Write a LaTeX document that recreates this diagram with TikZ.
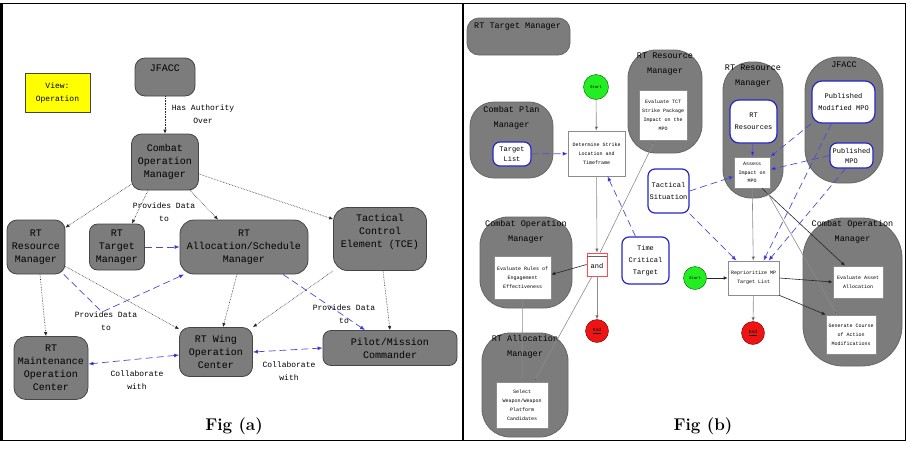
\documentclass[tikz,border=0pt]{standalone}
\usepackage{fontspec}
\setmonofont{Liberation Mono}
\usetikzlibrary{arrows.meta}
\definecolor{lanegray}{HTML}{7C7C7C}
\definecolor{edgegray}{HTML}{454545}
\definecolor{flowblue}{HTML}{4A4AD8}
\definecolor{boxblue}{HTML}{2626C8}
\definecolor{startgreen}{HTML}{22EE22}
\definecolor{endred}{HTML}{EE1414}
\definecolor{viewyellow}{HTML}{FFFF00}
\begin{document}
\begin{tikzpicture}[x=1pt,y=-1pt,
    actor/.style={draw=edgegray,fill=lanegray,rounded corners=10pt,align=center,
        inner sep=2pt,line width=0.8pt,font=\ttfamily\fontsize{10}{13}\selectfont},
    edgelabel/.style={align=center,inner sep=0pt,font=\ttfamily\fontsize{8}{13}\selectfont},
    lane/.style={draw=black!60,fill=lanegray,line width=0.8pt},
    lanetitle/.style={align=center,inner sep=0pt,font=\ttfamily\fontsize{8.5}{14.5}\selectfont},
    task/.style={draw=black!45,fill=white,align=center,inner sep=1pt,line width=0.6pt,
        font=\ttfamily\fontsize{5}{9}\selectfont},
    datum/.style={draw=boxblue,fill=white,rounded corners=7pt,align=center,inner sep=1pt,
        line width=1.2pt,font=\ttfamily\fontsize{7}{12}\selectfont},
    startnode/.style={circle,draw=green!35!black,fill=startgreen,inner sep=0pt,
        minimum size=23pt,font=\ttfamily\fontsize{4}{5}\selectfont},
    endnode/.style={circle,draw=red!40!black,fill=endred,inner sep=0pt,
        minimum size=23pt,font=\ttfamily\fontsize{4.5}{5}\selectfont},
    dotflow/.style={densely dotted,draw=black!85,line width=0.6pt,
        -{Latex[length=4pt,width=3.5pt]}},
    dataflow/.style={draw=flowblue,line width=0.7pt,dash pattern=on 7pt off 4pt,
        -{Latex[length=5pt,width=4pt,fill=blue!80!black]}},
    databoth/.style={dataflow,{Latex[length=5pt,width=4pt,fill=blue!80!black]}-{Latex[length=5pt,width=4pt,fill=blue!80!black]}},
    ctrlflow/.style={draw=black!45,line width=0.6pt,-{Latex[length=4pt,width=3.5pt,fill=black]}},
    blackflow/.style={draw=black!85,line width=0.6pt,-{Latex[length=4pt,width=3.5pt]}}]
    \useasboundingbox (0,0) rectangle (910,448);
    %% Frame
    \draw[line width=0.8pt] (2,3) -- (905,3) -- (905,440) -- (2,440);
    \draw[line width=3pt] (1.5,3) -- (1.5,441);
    \draw[line width=2pt] (462.5,3) -- (462.5,441);

    %% ---------------- Fig (a) ----------------
    \node[draw=edgegray,fill=viewyellow,minimum width=65,minimum height=39,align=center,
        font=\ttfamily\fontsize{8}{13}\selectfont] (view) at (57.5,92.5) {View:\\Operation};
    \node[actor,minimum width=60,minimum height=38] (jfacc) at (165,77) {JFACC\\[4pt]~};
    \node[actor,minimum width=67,minimum height=56] (com) at (165,162) {Combat\\Operation\\Manager};
    \node[actor,minimum width=58,minimum height=54] (res) at (36,247) {RT\\Resource\\Manager};
    \node[actor,minimum width=55,minimum height=46,rounded corners=8pt] (tgt) at (117,247) {RT\\Target\\Manager};
    \node[actor,minimum width=128,minimum height=54,rounded corners=14pt] (alloc) at (244,247)
        {RT\\Allocation/Schedule\\Manager};
    \node[actor,minimum width=93,minimum height=63,rounded corners=14pt] (tce) at (380,239)
        {Tactical\\Control\\Element (TCE)\\[4pt]~};
    \node[actor,minimum width=74,minimum height=63,rounded corners=12pt] (maint) at (51,368)
        {RT\\Maintenance\\Operation\\Center};
    \node[actor,minimum width=73,minimum height=49] (wing) at (216,352) {RT Wing\\Operation\\Center};
    \node[actor,minimum width=134,minimum height=35,rounded corners=8pt] (pilot) at (390,348)
        {Pilot/Mission\\Commander};

    %% Relations
    \draw[dotflow] (jfacc) -- (com);
    \node[edgelabel] (lblauth) at (203,114) {Has Authority\\Over};
    \draw[dotflow] (com) -- (res);
    \draw[dotflow] ([xshift=-17pt]com.south) -- ([xshift=15pt]tgt.north);
    \node[edgelabel] (lblcom) at (164,212) {Provides Data\\to};
    \draw[dotflow] ([xshift=25pt]com.south) -- ([xshift=-26pt]alloc.north);
    \draw[dotflow] ([yshift=-12pt]com.east) -- ([yshift=-12pt]tce.north west);
    \draw[dotflow] ([xshift=4pt]res.south) -- ([xshift=-5pt]maint.north);
    \draw[dotflow] ([yshift=8pt]res.south east) -- ([yshift=-2pt]wing.north west);
    \coordinate (resbend) at (102,312);
    \draw[dataflow] (res) -- (resbend) -- (alloc);
    \node[edgelabel] (lblres) at (106,321) {Provides Data\\to};
    \draw[dataflow] (tgt) -- (alloc);
    \draw[dotflow] ([xshift=-7pt]alloc.south) -- ([xshift=7pt]wing.north);
    \draw[dotflow] (tce.south west) -- (wing.north east);
    \draw[dotflow] ([xshift=3pt]tce.south) -- (pilot.north);
    \draw[dataflow] ([xshift=39pt]alloc.south) -- ([xshift=-25pt]pilot.north);
    \node[edgelabel] (lblalloc) at (344,314) {Provides Data\\to};
    \draw[databoth] ([yshift=-3pt]wing.west) -- ([yshift=4pt]maint.east);
    \node[edgelabel] (lblmaint) at (137,380) {Collaborate\\with};
    \draw[databoth] (wing.east) -- (pilot.west);
    \node[edgelabel] (lblpilot) at (289,371) {Collaborate\\with};

    \node[font=\fontsize{17}{20}\selectfont\bfseries] (figa) at (234,426) {Fig (a)};

    %% ---------------- Fig (b) ----------------
    %% Lanes
    \node[lane,minimum width=103,minimum height=37,rounded corners=12pt] (tmlane) at (518.5,36.5) {};
    \node[lanetitle,anchor=west] (tmtitle) at (474,27) {RT Target Manager};
    \node[lane,minimum width=83,minimum height=76,rounded corners=24pt] (cpmlane) at (511.5,140) {};
    \node[lanetitle] (cpmtitle) at (511.5,118) {Combat Plan\\Manager};
    \node[lane,minimum width=74,minimum height=103,rounded corners=28pt] (rrmlanea) at (665,101.5) {};
    \node[lanetitle] (rrmtitlea) at (665,64) {RT Resource\\Manager};
    \node[lane,minimum width=60,minimum height=136,rounded corners=28pt] (rrmlaneb) at (753,130) {};
    \node[lanetitle] (rrmtitleb) at (753,76) {RT Resource\\Manager};
    \node[lane,minimum width=78,minimum height=126,rounded corners=34pt] (jfacclane) at (844,120) {};
    \node[lanetitle] (jfacctitle) at (844,65) {JFACC};
    \node[lane,minimum width=92,minimum height=91,rounded corners=28pt] (comlanea) at (526,262.5) {};
    \node[lanetitle] (comtitlea) at (526,232) {Combat Operation\\Manager};
    \node[lane,minimum width=99,minimum height=148,rounded corners=40pt] (comlaneb) at (852.5,292) {};
    \node[lanetitle] (comtitleb) at (852.5,232) {Combat Operation\\Manager};
    \node[lane,minimum width=86,minimum height=104,rounded corners=28pt] (ralane) at (525,385) {};
    \node[lanetitle] (ratitle) at (525,347) {RT Allocation\\Manager};

    %% Activities
    \node[task,minimum width=57,minimum height=45] (det) at (596.5,153.5) {Determine Strike\\Location and\\Timeframe};
    \node[task,minimum width=48,minimum height=50] (evtct) at (663,115) {Evaluate TCT\\Strike Package\\Impact on the\\MPO};
    \node[task,minimum width=36,minimum height=31,font=\ttfamily\fontsize{5}{8.5}\selectfont] (assess) at (752,172.5) {Assess\\Impact on\\MPO};
    \node[task,minimum width=51,minimum height=34] (reprio) at (753.5,278) {Reprioritize MP\\Target List};
    \node[task,minimum width=50,minimum height=32] (evaa) at (858,282) {Evaluate Asset\\Allocation};
    \node[task,minimum width=50,minimum height=39] (gcoa) at (851,334.5) {Generate Course\\of Action\\Modifications};
    \node[task,minimum width=57,minimum height=43] (evroe) at (522.5,277.5) {Evaluate Rules of\\Engagement\\Effectiveness};
    \node[task,minimum width=52,minimum height=46] (selw) at (522,405) {Select\\Weapon/Weapon\\Platform\\Candidates};
    \node[draw=red!70,fill=white,line width=0.7pt,minimum width=20,minimum height=23,inner sep=0pt,
        font=\ttfamily\fontsize{7}{8}\selectfont,text depth=0pt] (andj) at (597,264.5) {\raisebox{-3pt}{and}};
    \draw[black!60,line width=1pt] ([yshift=-4pt]andj.north west) -- ([yshift=-4pt]andj.north east);

    %% Objects
    \node[datum,minimum width=38,minimum height=24,font=\ttfamily\fontsize{7}{10}\selectfont] (tlist) at (512,154) {Target\\List};
    \node[datum,minimum width=41,minimum height=44] (tacsit) at (668.5,191) {Tactical\\Situation};
    \node[datum,minimum width=47,minimum height=47] (tct) at (645.5,260.5) {Time\\Critical\\Target};
    \node[datum,minimum width=47,minimum height=43,rounded corners=9pt] (rtres) at (753.5,121.5) {RT\\Resources};
    \node[datum,minimum width=63,minimum height=42,rounded corners=10pt] (pmmpo) at (843.5,102) {Published\\Modified MPO};
    \node[datum,minimum width=43,minimum height=25,font=\ttfamily\fontsize{7}{10}\selectfont] (pmpo) at (851.5,155.5) {Published\\MPO};

    %% Start / End
    \node[startnode,minimum size=25pt] (starta) at (596,87) {Start};
    \node[endnode] (enda) at (597,331) {\underline{End}};
    \node[startnode] (startb) at (695,278) {Start};
    \node[endnode] (endb) at (753,333) {\underline{End}};

    %% Flows
    \draw[ctrlflow] (starta) -- (det);
    \draw[dataflow] (tlist) -- (det);
    \draw[ctrlflow] (det) -- (andj);
    \draw[ctrlflow] ([xshift=3pt]andj.north) -- ([xshift=-8pt]evtct.south);
    \draw[dataflow] ([xshift=-10pt]tct.north) -- ([xshift=11pt]det.south);
    \draw[blackflow] (andj.west) -- ([yshift=3pt]evroe.east);
    \draw[ctrlflow] (andj) -- (enda);
    \draw[ctrlflow] ([xshift=-5pt]andj.south) -- ([xshift=12pt]selw.north);
    \draw[ctrlflow] (evroe) -- (selw);
    \draw[dataflow] (tacsit.east) -- ([yshift=-4pt]assess.west);
    \draw[dataflow] (tacsit.south east) -- ([xshift=-17pt]reprio.north);
    \draw[dataflow,dash pattern=on 3pt off 1pt] (rtres) -- (assess);
    \draw[dataflow] (pmmpo.south west) -- (assess.north east);
    \draw[dataflow] (pmpo.west) -- ([yshift=3pt]assess.east);
    \draw[dataflow] ([xshift=-12pt]pmmpo.south) -- ([xshift=10pt]reprio.north);
    \draw[dataflow] ([xshift=-6pt]pmpo.south) -- ([xshift=15pt]reprio.north);
    \draw[ctrlflow] (assess) -- (reprio);
    \draw[blackflow] ([xshift=10pt]assess.south) -- ([xshift=-13pt]evaa.north);
    \draw[ctrlflow] ([xshift=13pt]assess.south) -- ([xshift=-14pt]gcoa.north);
    \draw[blackflow] (startb) -- (reprio);
    \draw[blackflow] (reprio.east) -- (evaa.west);
    \draw[blackflow] (reprio.south east) -- (gcoa.north west);
    \draw[ctrlflow] (reprio) -- (endb);

    \node[font=\fontsize{17}{20}\selectfont\bfseries] (figb) at (703,426) {Fig (b)};
\end{tikzpicture}
\end{document}
